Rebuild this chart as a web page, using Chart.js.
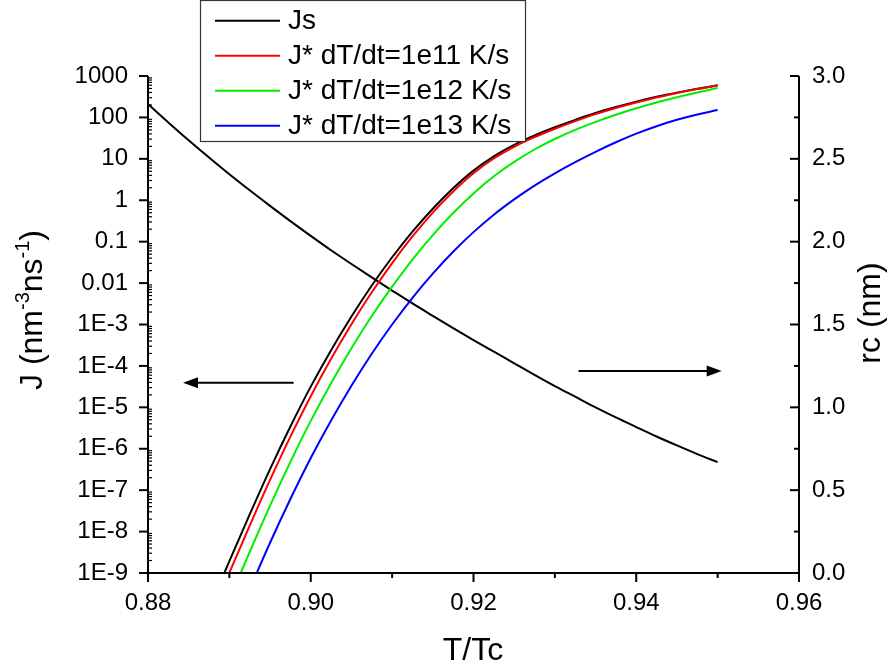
<!DOCTYPE html>
<html>
<head>
<meta charset="utf-8">
<script src="https://cdn.jsdelivr.net/npm/chart.js@4.4.1/dist/chart.umd.min.js"></script>
<style>
html,body{margin:0;padding:0;background:#fff;}
#wrap{width:896px;height:670px;position:relative;}
</style>
</head>
<body>
<div id="wrap"><canvas id="c" width="896" height="670"></canvas></div>
<script>
// ---------- data ----------
const tRatio = [0.88,0.8825,0.885,0.8875,0.89,0.8925,0.895,0.8975,0.90,0.9025,0.905,0.9075,0.91,0.9125,0.915,0.9175,0.92,0.9225,0.925,0.9275,0.93,0.9325,0.935,0.9375,0.94,0.9425,0.945,0.9475,0.95];
const jsRate    = [null,null,null,1.35e-10,1.94e-9,2.60e-8,3.23e-7,3.45e-6,3.16e-5,2.40e-4,1.56e-3,8.75e-3,0.0420,0.175,0.625,1.95,5.20,11.5,21.7,36.6,57.7,87.5,128,178,241,315,397,491,596];
const jStar1e11 = [null,null,null,6.98e-11,1.02e-9,1.40e-8,1.77e-7,1.96e-6,1.86e-5,1.48e-4,1.01e-3,6.00e-3,0.0304,0.134,0.504,1.63,4.50,10.2,19.5,33.3,53.1,81.5,120,169,229,303,386,483,590];
const jStar1e12 = [null,null,null,1.54e-11,2.30e-10,3.22e-9,4.22e-8,4.82e-7,4.71e-6,3.83e-5,2.67e-4,1.60e-3,8.18e-3,0.0369,0.144,0.492,1.46,3.78,8.47,16.8,30.1,50.0,78.0,116,166,229,306,400,511];
const jStar1e13 = [null,null,null,null,2.92e-11,4.06e-10,5.37e-9,6.10e-8,5.96e-7,4.81e-6,3.33e-5,1.97e-4,1.00e-3,4.42e-3,0.0169,0.0571,0.170,0.448,1.05,2.26,4.48,8.34,14.8,25.1,40.5,61.4,87.5,118,151];
const rcNm = [2.831,2.720,2.612,2.508,2.407,2.310,2.216,2.124,2.035,1.948,1.865,1.784,1.705,1.627,1.552,1.478,1.406,1.336,1.266,1.196,1.128,1.064,1.000,0.939,0.881,0.824,0.770,0.718,0.669];

const seriesNames = ['Js','J* dT/dt=1e11 K/s','J* dT/dt=1e12 K/s','J* dT/dt=1e13 K/s'];
const seriesColors = ['#000000','#ff0000','#00ee00','#0000ff'];

const xTicks = [0.88,0.90,0.92,0.94,0.96];
const xTickLabels = ['0.88','0.90','0.92','0.94','0.96'];
const xMinorTicks = [0.89,0.91,0.93,0.95];
const jTicks = [1e3,1e2,1e1,1,0.1,0.01,1e-3,1e-4,1e-5,1e-6,1e-7,1e-8,1e-9];
const jTickLabels = ['1000','100','10','1','0.1','0.01','1E-3','1E-4','1E-5','1E-6','1E-7','1E-8','1E-9'];
const rcTicks = [0,0.5,1.0,1.5,2.0,2.5,3.0];
const rcTickLabels = ['0.0','0.5','1.0','1.5','2.0','2.5','3.0'];
const rcMinorTicks = [0.25,0.75,1.25,1.75,2.25,2.75];

// arrows (data units)
const arrowJ  = {x0:0.8979, x1:0.8843, y:3.9e-5};
const arrowRc = {x0:0.9329, x1:0.9505, y:1.22};

const FONT = '"Liberation Sans", Arial, sans-serif';

const toPts = arr => tRatio.map((t,i)=>({x:t,y:arr[i]}));

const decor = {
  id:'decor',
  afterDraw(chart){
    const {ctx, chartArea:a, scales} = chart;
    const x = scales.x, yJ = scales.yJ, yR = scales.yR;
    const L = a.left, R = a.right, T = a.top, B = a.bottom;
    ctx.save();
    ctx.strokeStyle = '#000';
    ctx.fillStyle = '#000';
    const line = (x0,y0,x1,y1,w)=>{ctx.lineWidth=w;ctx.beginPath();ctx.moveTo(x0,y0);ctx.lineTo(x1,y1);ctx.stroke();};
    // axis lines
    line(L, T, L, B+1, 2);
    line(L-1, B, R+1, B, 2);
    line(R, T, R, B+1, 2);
    // left major ticks
    jTicks.forEach(v=>{const y=yJ.getPixelForValue(v); line(L-9,y,L,y,2);});
    // left minor ticks
    for(let e=-9;e<3;e++){
      for(let k=2;k<=9;k++){
        const y=yJ.getPixelForValue(k*Math.pow(10,e));
        line(L,y,L+4,y,1.2);
      }
    }
    // bottom ticks
    xTicks.forEach(v=>{const px=x.getPixelForValue(v); line(px,B,px,B+9,2);});
    xMinorTicks.forEach(v=>{const px=x.getPixelForValue(v); line(px,B,px,B+5,2);});
    // right ticks (inward)
    rcTicks.forEach(v=>{const y=yR.getPixelForValue(v); line(R-9,y,R,y,2);});
    rcMinorTicks.forEach(v=>{const y=yR.getPixelForValue(v); line(R-5,y,R,y,2);});

    // arrows
    const arrow=(xa,ya,xb,yb)=>{
      const dir = Math.sign(xb-xa);
      const hl=15, hw=5.5;
      line(xa,ya,xb-dir*hl+dir*1,yb,2);
      ctx.beginPath();
      ctx.moveTo(xb,yb);
      ctx.lineTo(xb-dir*hl,yb-hw);
      ctx.lineTo(xb-dir*hl,yb+hw);
      ctx.closePath();
      ctx.fill();
    };
    arrow(x.getPixelForValue(arrowJ.x0), yJ.getPixelForValue(arrowJ.y), x.getPixelForValue(arrowJ.x1), yJ.getPixelForValue(arrowJ.y));
    arrow(x.getPixelForValue(arrowRc.x0), yR.getPixelForValue(arrowRc.y), x.getPixelForValue(arrowRc.x1), yR.getPixelForValue(arrowRc.y));

    // legend
    ctx.fillStyle='#fff';
    ctx.fillRect(200.5,0.5,325,141);
    ctx.strokeStyle='#333';
    ctx.lineWidth=1.2;
    ctx.strokeRect(200.5,0.5,325,141);
    ctx.font = '28px '+FONT;
    ctx.textBaseline='middle';
    ctx.textAlign='left';
    seriesNames.forEach((n,i)=>{
      const yy = 20.7 + i*35;
      ctx.strokeStyle=seriesColors[i];
      line(215,yy,280,yy,2);
      ctx.fillStyle='#000';
      ctx.fillText(n, 288, yy+1);
    });

    // axis titles
    ctx.fillStyle='#000';
    ctx.font = '32px '+FONT;
    ctx.textAlign='center';
    ctx.textBaseline='alphabetic';
    ctx.fillText('T/Tc', 473, 660);
    // right title
    ctx.save();
    ctx.translate(880, 313);
    ctx.rotate(-Math.PI/2);
    ctx.fillText('rc (nm)', 0, 0);
    ctx.restore();
    // left title with superscripts
    ctx.save();
    ctx.translate(42, 310);
    ctx.rotate(-Math.PI/2);
    ctx.textAlign='left';
    const main='32px '+FONT, sup='20px '+FONT;
    const parts=[['J (nm',main,0],['-3',sup,-13],['ns',main,0],['-1',sup,-13],[')',main,0]];
    let total=0;
    parts.forEach(p=>{ctx.font=p[1]; total+=ctx.measureText(p[0]).width;});
    let cx=-total/2;
    parts.forEach(p=>{ctx.font=p[1]; ctx.fillText(p[0],cx,p[2]); cx+=ctx.measureText(p[0]).width;});
    ctx.restore();

    ctx.restore();
  }
};

const tickFont = {family:'"Liberation Sans", Arial, sans-serif', size:24};

new Chart(document.getElementById('c'), {
  type:'line',
  data:{
    datasets:[
      {label:seriesNames[0], data:toPts(jsRate), borderColor:seriesColors[0], yAxisID:'yJ', order:4},
      {label:seriesNames[1], data:toPts(jStar1e11), borderColor:seriesColors[1], yAxisID:'yJ', order:3},
      {label:seriesNames[2], data:toPts(jStar1e12), borderColor:seriesColors[2], yAxisID:'yJ', order:2},
      {label:seriesNames[3], data:toPts(jStar1e13), borderColor:seriesColors[3], yAxisID:'yJ', order:1},
      {label:'rc', data:toPts(rcNm), borderColor:'#000', yAxisID:'yR', order:5}
    ]
  },
  options:{
    responsive:false,
    animation:false,
    devicePixelRatio:1,
    layout:{padding:{top:76,left:0,right:0,bottom:0}},
    plugins:{legend:{display:false}, tooltip:{enabled:false}},
    elements:{point:{radius:0}, line:{borderWidth:2, cubicInterpolationMode:'monotone', fill:false}},
    scales:{
      x:{
        type:'linear', min:0.88, max:0.96,
        afterBuildTicks:s=>{s.ticks = xTicks.map(v=>({value:v}));},
        afterFit:s=>{s.height=97;},
        grid:{display:false, drawTicks:false},
        border:{display:false},
        ticks:{font:tickFont, color:'#000', padding:16, maxRotation:0, autoSkip:false,
               callback:(v,i)=>xTickLabels[i]}
      },
      yJ:{
        type:'logarithmic', position:'left', min:1e-9, max:1000,
        afterBuildTicks:s=>{s.ticks = jTicks.map(v=>({value:v}));},
        afterFit:s=>{s.width=148;},
        grid:{display:false, drawTicks:false},
        border:{display:false},
        ticks:{font:tickFont, color:'#000', padding:20, autoSkip:false,
               callback:(v,i)=>jTickLabels[i]}
      },
      yR:{
        type:'linear', position:'right', min:0, max:3,
        afterBuildTicks:s=>{s.ticks = rcTicks.map(v=>({value:v}));},
        afterFit:s=>{s.width=97;},
        grid:{display:false, drawTicks:false},
        border:{display:false},
        ticks:{font:tickFont, color:'#000', padding:13, autoSkip:false,
               callback:(v,i)=>rcTickLabels[i]}
      }
    }
  },
  plugins:[decor]
});
</script>
</body>
</html>
